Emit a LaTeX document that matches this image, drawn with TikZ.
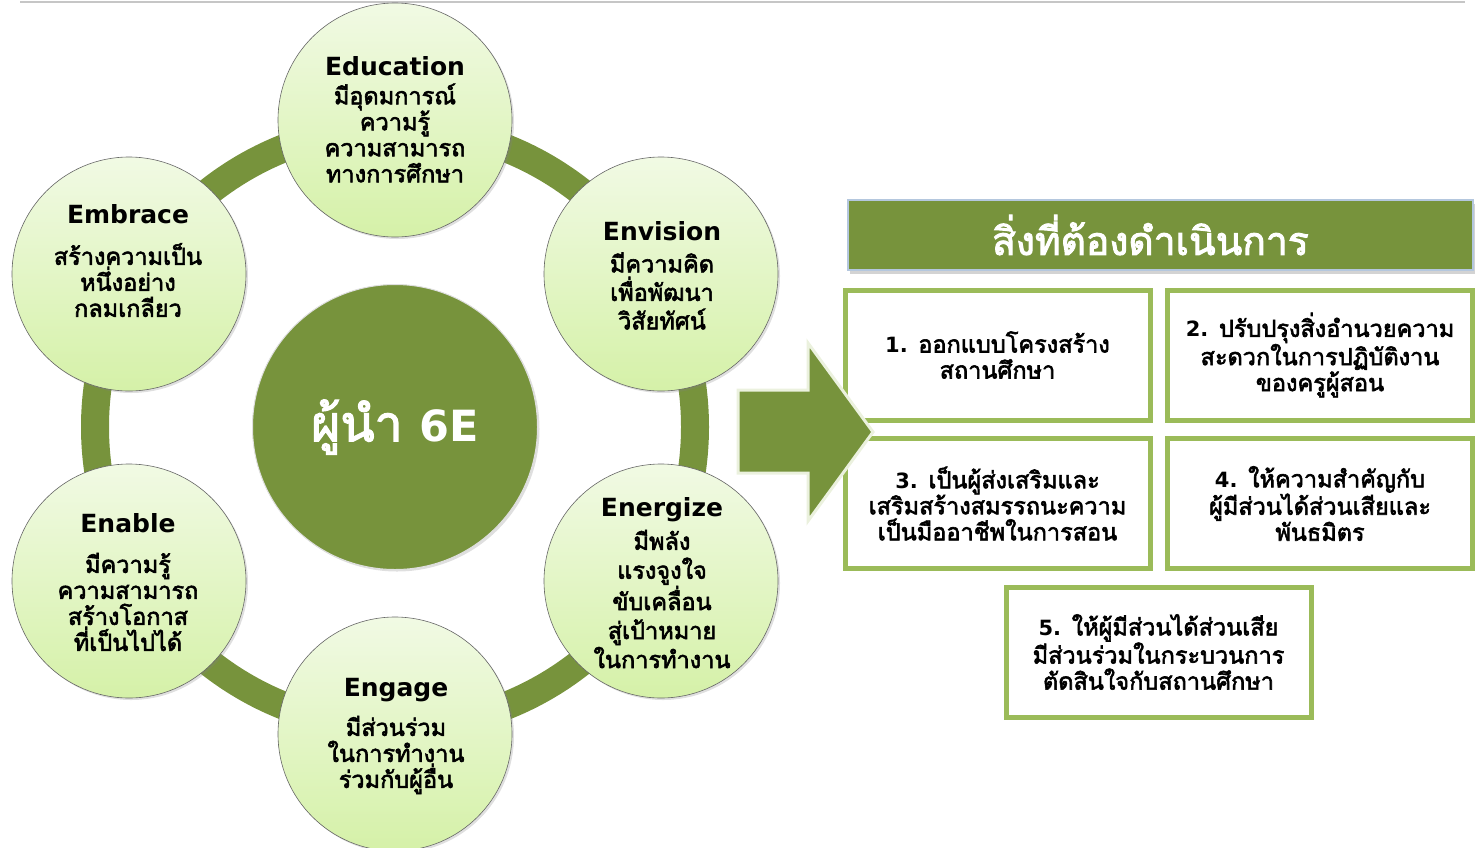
\documentclass[tikz,border=0pt]{standalone}
\usepackage{fontspec}
\setmainfont[Script=Thai,AutoFakeBold=2.5]{Loma}
\newfontfamily\titlefont{DejaVu Sans}
\newcommand{\itemno}[1]{{\titlefont\bfseries\fontsize{21}{26}\selectfont #1}}
\usetikzlibrary{shadows}
\definecolor{olive}{HTML}{77933C}
\definecolor{boxgreen}{HTML}{9BBB59}
\definecolor{paletop}{HTML}{F1FAE4}
\definecolor{palebot}{HTML}{D5F1A8}
\definecolor{arrowedge}{HTML}{EBF1DE}
\definecolor{headedge}{HTML}{B4C7DE}
\tikzset{
  ebubble/.style={circle,minimum size=234pt,inner sep=0pt,draw=gray!80!black,line width=0.6pt,
    top color=paletop,bottom color=palebot,
    drop shadow={opacity=0.25,shadow xshift=2pt,shadow yshift=-2pt}},
  etitle/.style={font=\titlefont\bfseries\fontsize{25}{30}\selectfont},
  ebody/.style={align=center,font=\bfseries\fontsize{23.5}{26}\selectfont},
  todobox/.style={draw=boxgreen,line width=5pt,fill=white,minimum width=305pt,minimum height=130pt,
    align=center,font=\bfseries\fontsize{23.5}{26}\selectfont}
}
\begin{document}
\begin{tikzpicture}[x=1pt,y=-1pt]
  \useasboundingbox (0,0) rectangle (1483,847);
  \draw[gray!45,line width=2pt] (20,1.5) -- (1465,1.5);
  \draw[olive,line width=28pt] (395,427) circle (300);
  \node[circle,minimum size=285pt,fill=olive,draw=white!75!gray,line width=1pt,
    drop shadow={opacity=0.25,shadow xshift=2pt,shadow yshift=-2pt},
    text=white,font=\bfseries\fontsize{50}{54}\selectfont] (lead) at (395,427)
    {ผู้นำ {\titlefont\bfseries\fontsize{43}{50}\selectfont 6E}};
  \node[ebubble] (edu) at (395,120) {};
  \node[ebubble] (env) at (661,274) {};
  \node[ebubble] (ene) at (661,581) {};
  \node[ebubble] (eng) at (395,734) {};
  \node[ebubble] (ena) at (129,581) {};
  \node[ebubble] (emb) at (129,274) {};
  \node[etitle] (eduT) at (395,66) {Education};
  \node[ebody] (eduB) at (395,133) {มีอุดมการณ์\\ความรู้\\ความสามารถ\\ทางการศึกษา};
  \node[etitle] (embT) at (128,214) {Embrace};
  \node[ebody] (embB) at (128,280) {สร้างความเป็น\\หนึ่งอย่าง\\กลมเกลียว};
  \node[etitle] (envT) at (662,231) {Envision};
  \node[ebody,font=\bfseries\fontsize{23.5}{28.5}\selectfont] (envB) at (662,291) {มีความคิด\\เพื่อพัฒนา\\วิสัยทัศน์};
  \node[etitle] (enaT) at (128,523) {Enable};
  \node[ebody] (enaB) at (128,602) {มีความรู้\\ความสามารถ\\สร้างโอกาส\\ที่เป็นไปได้};
  \node[etitle] (eneT) at (662,510) {Energize};
  \node[ebody,font=\bfseries\fontsize{23.5}{29}\selectfont] (eneB) at (662,599) {มีพลัง\\แรงจูงใจ\\ขับเคลื่อน\\สู่เป้าหมาย\\ในการทำงาน};
  \node[etitle] (engT) at (396,690) {Engage};
  \node[ebody] (engB) at (396,755) {มีส่วนร่วม\\ในการทำงาน\\ร่วมกับผู้อื่น};
  \node[fill=olive,draw=headedge,line width=1.5pt,minimum width=625pt,minimum height=70pt,
    drop shadow={opacity=0.35,shadow xshift=2pt,shadow yshift=-4pt},
    text=white,font=\bfseries\fontsize{39}{42}\selectfont] (head) at (1160.5,235) {\hspace*{-20pt}สิ่งที่ต้องดำเนินการ};
  \node[todobox] (todo1) at (997.5,355) {\itemno{1.} ออกแบบโครงสร้าง\\สถานศึกษา};
  \node[todobox] (todo2) at (1320,355) {\itemno{2.} ปรับปรุงสิ่งอำนวยความ\\สะดวกในการปฏิบัติงาน\\ของครูผู้สอน};
  \node[todobox] (todo3) at (997.5,503.5) {\itemno{3.} เป็นผู้ส่งเสริมและ\\เสริมสร้างสมรรถนะความ\\เป็นมืออาชีพในการสอน};
  \node[todobox] (todo4) at (1320,503.5) {\itemno{4.} ให้ความสำคัญกับ\\ผู้มีส่วนได้ส่วนเสียและ\\พันธมิตร};
  \node[todobox] (todo5) at (1158.5,652) {\itemno{5.} ให้ผู้มีส่วนได้ส่วนเสีย\\มีส่วนร่วมในกระบวนการ\\ตัดสินใจกับสถานศึกษา};
  \draw[fill=olive,draw=arrowedge,line width=3pt,line join=miter]
    (738,390) -- (808,390) -- (808,343) -- (873,432) -- (808,521) -- (808,473) -- (738,473) -- cycle;
\end{tikzpicture}
\end{document}
